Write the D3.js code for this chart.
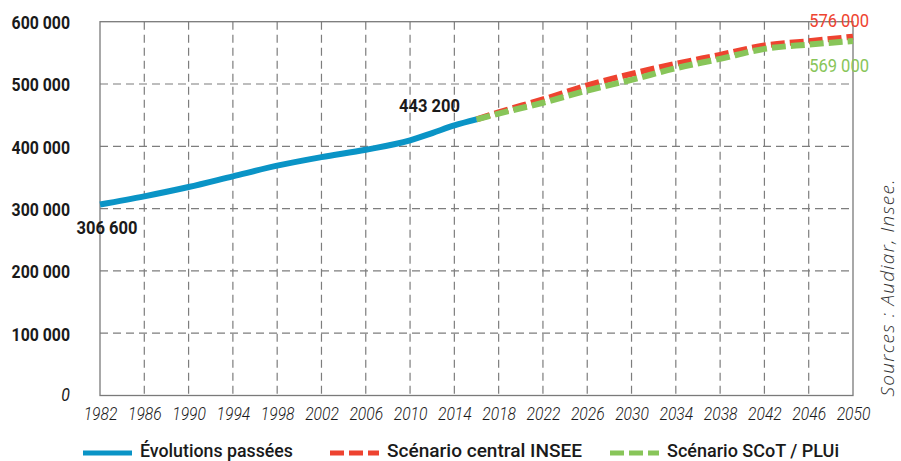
<!DOCTYPE html>
<html><head><meta charset="utf-8">
<script src="https://cdn.jsdelivr.net/npm/d3@7"></script>
<style>
html,body{margin:0;padding:0;background:#fff;}
svg{display:block;}
.cond{font-family:Roboto,"Liberation Sans",sans-serif;}
</style></head>
<body>
<svg id="chart" width="901" height="461"></svg>
<script>
// ---- data ----
const pastYears   = [1982, 1986, 1990, 1994, 1998, 2002, 2006, 2010, 2012, 2014, 2016];
const pastValues  = [306600, 319700, 334600, 351800, 368900, 382700, 394500, 409500, 421200, 433500, 443200];
const projYears   = [2016, 2018, 2022, 2026, 2030, 2034, 2038, 2042, 2046, 2050];
const inseeValues = [443200, 454500, 475200, 497600, 516300, 532400, 546800, 561700, 568600, 576000];
const scotValues  = [443200, 452500, 469900, 489600, 506700, 525300, 540400, 556400, 563300, 569000];
const xTicks = [1982,1986,1990,1994,1998,2002,2006,2010,2014,2018,2022,2026,2030,2034,2038,2042,2046,2050];
const yTicks = [0,100000,200000,300000,400000,500000,600000];
const seriesNames = ["Évolutions passées", "Scénario central INSEE", "Scénario SCoT / PLUi"];
const colors = ["#0a94c6", "#ee4330", "#88c559"];

// ---- helpers ----
function condense(sel, factor) {
  sel.each(function () {
    const w = this.getComputedTextLength();
    d3.select(this).attr("textLength", w * factor).attr("lengthAdjust", "spacingAndGlyphs");
  });
}

// ---- scales ----
const svg = d3.select("#chart");
const x = d3.scaleLinear().domain([1982, 2050]).range([100, 853]);
const y = d3.scaleLinear().domain([0, 600000]).range([395.5, 21.7]);
const fmt = v => d3.format(",")(v).replace(/,/g, " ");

// grid
const grid = svg.append("g");
grid.selectAll("line.h").data(yTicks.filter(v => v > 0 && v < 600000)).join("line")
  .attr("x1", x(1982)).attr("x2", x(2050)).attr("y1", d => y(d)).attr("y2", d => y(d))
  .attr("stroke", "#7d7d7d").attr("stroke-width", 1.2).attr("stroke-dasharray", "8,5");
grid.selectAll("line.v").data(xTicks.filter(v => v > 1982 && v < 2050)).join("line")
  .attr("y1", y(600000)).attr("y2", y(0)).attr("x1", d => x(d)).attr("x2", d => x(d))
  .attr("stroke", "#7d7d7d").attr("stroke-width", 1.2).attr("stroke-dasharray", "8,5");

// frame
svg.append("rect").attr("x", x(1982)).attr("y", y(600000))
  .attr("width", x(2050) - x(1982)).attr("height", y(0) - y(600000))
  .attr("fill", "none").attr("stroke", "#7a7a7a").attr("stroke-width", 1.3);

// axes
const yAxis = d3.axisLeft(y).tickValues(yTicks).tickSize(0).tickPadding(30).tickFormat(fmt);
const gy = svg.append("g").attr("transform", `translate(${x(1982)},0)`).call(yAxis);
gy.select(".domain").remove();
const yt = gy.selectAll("text").attr("class", "cond").style("font-size", "18px").style("font-weight", "bold")
  .attr("fill", "#1a1a1a").attr("dy", "0.38em");
yt.filter(d => d === 0).style("font-weight", "normal").style("font-style", "italic").attr("dy", "0.3em");
condense(yt, 0.88);

const xAxis = d3.axisBottom(x).tickValues(xTicks).tickSize(0).tickPadding(12).tickFormat(d3.format("d"));
const gx = svg.append("g").attr("transform", `translate(0,${y(0)})`).call(xAxis);
gx.select(".domain").remove();
const xt = gx.selectAll("text").attr("class", "cond").style("font-size", "18px").style("font-style", "italic")
  .style("font-weight", 300).attr("fill", "#1a1a1a");
condense(xt, 0.87);

// lines
const line = d3.line().x(d => x(d[0])).y(d => y(d[1])).curve(d3.curveMonotoneX);
svg.append("path").datum(projYears.map((yr, i) => [yr, inseeValues[i]]))
  .attr("d", line).attr("fill", "none").attr("stroke", colors[1]).attr("stroke-width", 6)
  .attr("stroke-dasharray", "14,5");
svg.append("path").datum(projYears.map((yr, i) => [yr, scotValues[i]]))
  .attr("d", line).attr("fill", "none").attr("stroke", colors[2]).attr("stroke-width", 6)
  .attr("stroke-dasharray", "14,5");
svg.append("path").datum(pastYears.map((yr, i) => [yr, pastValues[i]]))
  .attr("d", line).attr("fill", "none").attr("stroke", colors[0]).attr("stroke-width", 6);

// value labels
const lab = svg.append("g").attr("class", "cond").style("font-size", "19px");
lab.append("text").attr("x", x(1982) + 7).attr("y", y(pastValues[0]) + 30).attr("text-anchor", "middle")
  .style("font-weight", "bold").attr("fill", "#1a1a1a").text(fmt(pastValues[0]));
lab.append("text").attr("x", x(2016) - 47).attr("y", y(pastValues[pastValues.length - 1]) - 7).attr("text-anchor", "middle")
  .style("font-weight", "bold").attr("fill", "#1a1a1a").text(fmt(pastValues[pastValues.length - 1]));
lab.append("text").attr("x", x(2050) + 16).attr("y", 27).attr("text-anchor", "end")
  .attr("fill", colors[1]).text(fmt(inseeValues[inseeValues.length - 1]));
lab.append("text").attr("x", x(2050) + 16).attr("y", 72).attr("text-anchor", "end")
  .attr("fill", colors[2]).text(fmt(scotValues[scotValues.length - 1]));
condense(lab.selectAll("text"), 0.87);

// source
svg.append("text").attr("transform", "translate(894,288) rotate(-90)").attr("text-anchor", "middle")
  .style("font-family", "'Open Sans', sans-serif").style("font-size", "19px").style("font-style", "italic")
  .style("font-weight", 300).attr("fill", "#333")
  .attr("textLength", 217).attr("lengthAdjust", "spacing")
  .text("Sources : Audiar, Insee.");

// legend
const legendX = [83, 330, 610];
const legendTextW = [153, 195, 172];
const leg = svg.append("g");
seriesNames.forEach((name, i) => {
  leg.append("line").attr("x1", legendX[i]).attr("x2", legendX[i] + 49).attr("y1", 453).attr("y2", 453)
    .attr("stroke", colors[i]).attr("stroke-width", 5)
    .attr("stroke-dasharray", i === 0 ? null : "14,5");
  leg.append("text").attr("class", "cond").attr("x", legendX[i] + 57).attr("y", 457)
    .style("font-size", "19px").style("font-weight", 500).attr("fill", "#1a1a1a")
    .attr("textLength", legendTextW[i]).attr("lengthAdjust", "spacingAndGlyphs")
    .text(name);
});
</script>
</body></html>
